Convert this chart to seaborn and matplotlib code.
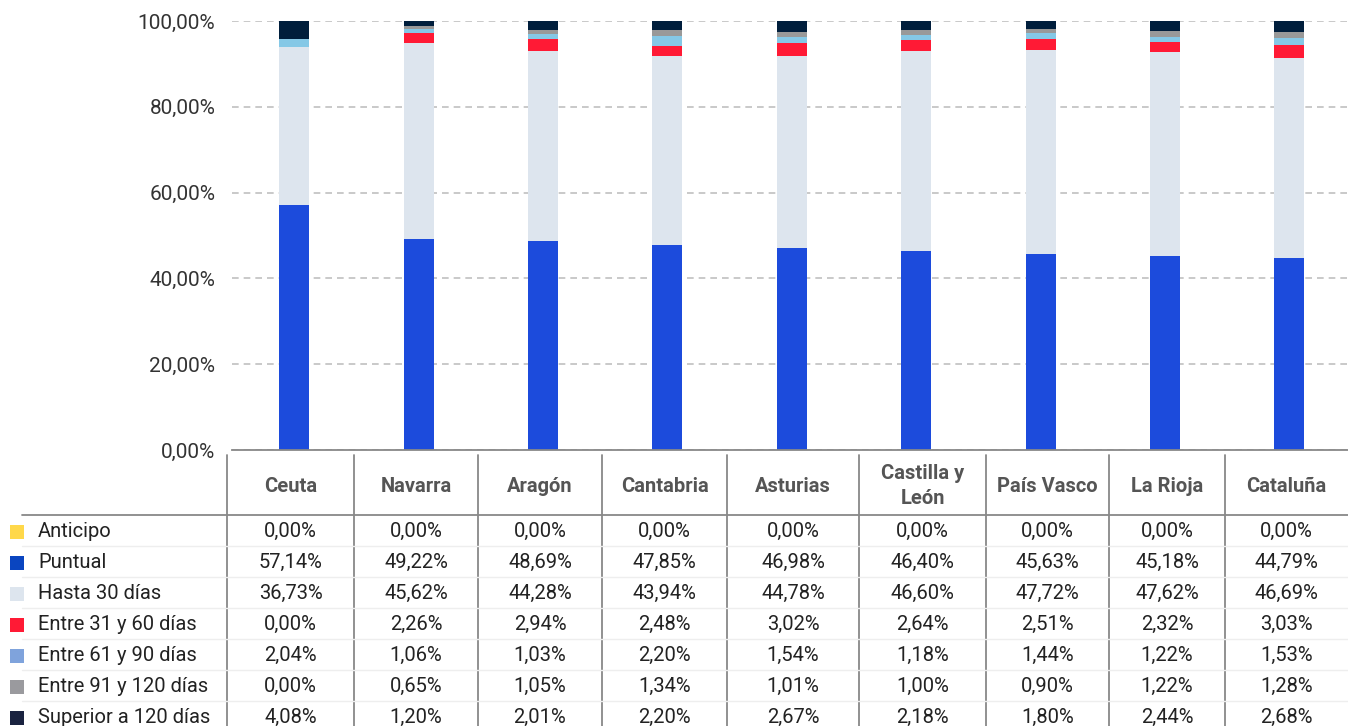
import numpy as np
import matplotlib.pyplot as plt
from matplotlib.patches import Rectangle
from matplotlib.ticker import FuncFormatter
import seaborn as sns

sns.set_theme(style='white')
plt.rcParams['font.family'] = ['Roboto', 'DejaVu Sans']

regions = ['Ceuta', 'Navarra', 'Aragón', 'Cantabria', 'Asturias',
           'Castilla y\nLeón', 'País Vasco', 'La Rioja', 'Cataluña']
series = ['Anticipo', 'Puntual', 'Hasta 30 días', 'Entre 31 y 60 días',
          'Entre 61 y 90 días', 'Entre 91 y 120 días', 'Superior a 120 días']
anticipo = [0.00, 0.00, 0.00, 0.00, 0.00, 0.00, 0.00, 0.00, 0.00]
puntual = [57.14, 49.22, 48.69, 47.85, 46.98, 46.40, 45.63, 45.18, 44.79]
hasta30 = [36.73, 45.62, 44.28, 43.94, 44.78, 46.60, 47.72, 47.62, 46.69]
entre31_60 = [0.00, 2.26, 2.94, 2.48, 3.02, 2.64, 2.51, 2.32, 3.03]
entre61_90 = [2.04, 1.06, 1.03, 2.20, 1.54, 1.18, 1.44, 1.22, 1.53]
entre91_120 = [0.00, 0.65, 1.05, 1.34, 1.01, 1.00, 0.90, 1.22, 1.28]
superior120 = [4.08, 1.20, 2.01, 2.20, 2.67, 2.18, 1.80, 2.44, 2.68]
values = [anticipo, puntual, hasta30, entre31_60, entre61_90, entre91_120, superior120]

bar_colors = ['#ffd84a', '#1c4bdc', '#dde5ee', '#ff1a35', '#85c8e6', '#999999', '#001e3c']
key_colors = ['#ffd84a', '#0a45c0', '#dde5ee', '#ff1a35', '#7fa3dc', '#9a9a9e', '#1a2340']

W, H = 1348, 726
fig = plt.figure(figsize=(W / 100, H / 100), dpi=100)

# bar chart area (pixel based placement)
left, right, top, bottom = 232, 1348, 21, 450
ax = fig.add_axes([left / W, 1 - bottom / H, (right - left) / W, (bottom - top) / H])

base = np.zeros(len(regions))
for vals, col in zip(values, bar_colors):
    v = np.array(vals) / 100
    sns.barplot(x=list(range(len(regions))), y=v, bottom=base, color=col,
                width=0.24, errorbar=None, ax=ax, linewidth=0, saturation=1)
    base += v

ax.set_xlim(-0.5, 8.471)
ax.set_ylim(0, 1.0)
ax.set_yticks(np.arange(0, 1.01, 0.2))
ax.yaxis.set_major_formatter(FuncFormatter(lambda y, _: f'{y * 100:.2f}%'.replace('.', ',')))
ax.tick_params(axis='y', labelsize=15, colors='#333333', length=0, pad=12)
ax.set_xticks([])
ax.set_xlabel('')
ax.set_ylabel('')
ax.yaxis.grid(True, color='#c0c0c0', linestyle=(0, (4, 3)), linewidth=1.2)
ax.set_axisbelow(True)
for s in ['top', 'right', 'left']:
    ax.spines[s].set_visible(False)
ax.spines['bottom'].set_color('#888888')
ax.spines['bottom'].set_linewidth(1.3)

# data table underneath, in pixel coordinates
tab = fig.add_axes([0, 0, 1, 1 - bottom / H])
tab.set_xlim(0, W)
tab.set_ylim(H, bottom)
tab.axis('off')

edges = [227, 354, 478, 602, 727, 859, 986, 1109, 1225, W]
centers = [(a + b) / 2 for a, b in zip(edges[:-1], edges[1:])]
header_bottom = 515
row_h = 31

for e in edges[:-1]:
    tab.plot([e, e], [455, H], color='#888888', lw=1.3)
tab.plot([22, W], [header_bottom, header_bottom], color='#888888', lw=1.3)
for r in range(1, len(series)):
    yy = header_bottom + r * row_h
    tab.plot([22, W], [yy, yy], color='#eeeeee', lw=1.0)

for c, name in zip(centers, regions):
    tab.text(c, 486, name, ha='center', va='center', fontsize=14.5,
             fontweight='bold', color='#555555', linespacing=1.45)

for r, (name, vals, kc) in enumerate(zip(series, values, key_colors)):
    yc = header_bottom + r * row_h + row_h / 2 + 1
    tab.add_patch(Rectangle((10, yc - 7), 14, 14, color=kc, lw=0))
    tab.text(38, yc, name, ha='left', va='center', fontsize=14.5, color='#222222')
    for c, v in zip(centers, vals):
        tab.text(c, yc, f'{v:.2f}%'.replace('.', ','), ha='center', va='center',
                 fontsize=14.5, color='#222222')

fig.savefig('out.png', dpi=100)
